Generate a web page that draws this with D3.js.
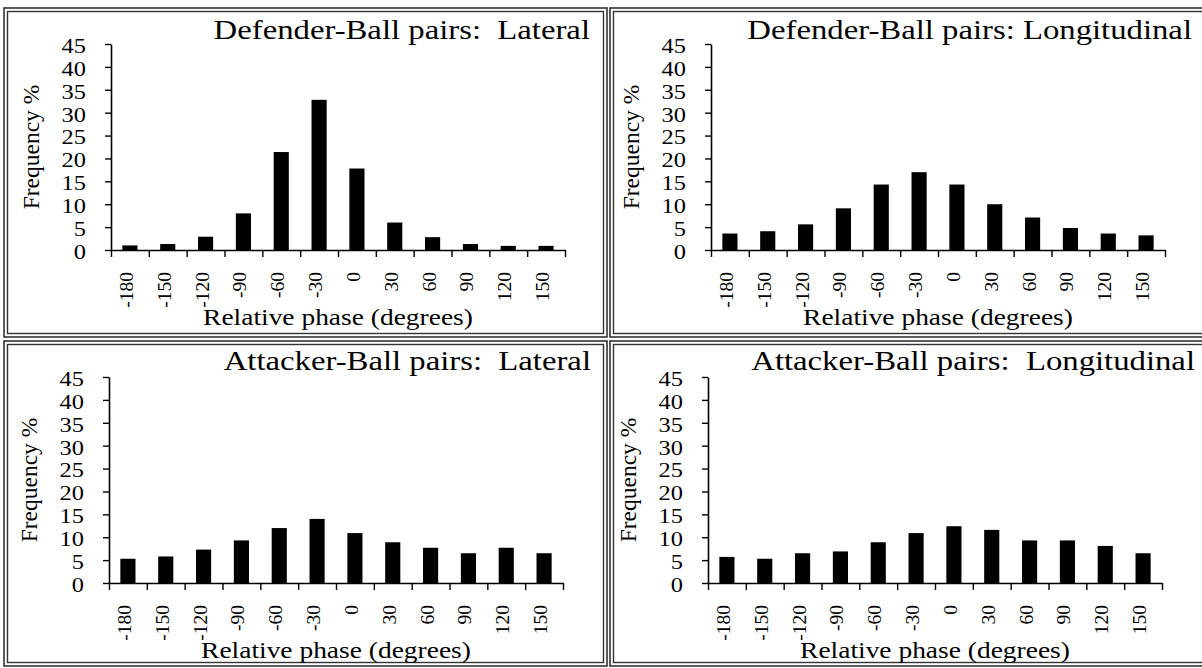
<!DOCTYPE html>
<html>
<head>
<meta charset="utf-8">
<script src="https://cdn.jsdelivr.net/npm/d3@7"></script>
<style>
  body { margin: 0; background: #fff; }
  svg { display: block; }
  text { font-family: 'Liberation Serif', 'Times New Roman', serif; fill: #000; }
</style>
</head>
<body>
<svg width="1202" height="668"></svg>
<script>
// phase bins and y ticks
var categories = ['-180', '-150', '-120', '-90', '-60', '-30', '0', '30', '60', '90', '120', '150'];
var yTicks = [0, 5, 10, 15, 20, 25, 30, 35, 40, 45];
var titles = [
  'Defender-Ball pairs:  Lateral',
  'Defender-Ball pairs: Longitudinal',
  'Attacker-Ball pairs:  Lateral',
  'Attacker-Ball pairs:  Longitudinal'
];
// frequency %
var defLateral = [1.0, 1.3, 2.9, 8.0, 21.4, 32.8, 17.8, 6.0, 2.8, 1.3, 0.9, 0.9];
var defLongitudinal = [3.6, 4.1, 5.6, 9.1, 14.3, 17.0, 14.3, 10.0, 7.1, 4.8, 3.6, 3.2];
var attLateral = [5.3, 5.8, 7.3, 9.3, 12.0, 14.0, 10.9, 8.9, 7.7, 6.5, 7.7, 6.5];
var attLongitudinal = [5.7, 5.3, 6.5, 6.9, 8.9, 10.9, 12.4, 11.6, 9.3, 9.3, 8.1, 6.5];

var SX = 1.22; // the source picture is stretched sideways
var svg = d3.select('svg');

var panels = [
  {title: titles[0], values: defLateral, ox: 0, oy: 0, tx: 590, ty: 39, box: [4, 8, 607, 337]},
  {title: titles[1], values: defLongitudinal, ox: 600, oy: 0, tx: 1192, ty: 39, box: [610, 8, 1214, 337]},
  {title: titles[2], values: attLateral, ox: -2, oy: 333, tx: 591, ty: 370, box: [4, 341, 607, 666]},
  {title: titles[3], values: attLongitudinal, ox: 597, oy: 333, tx: 1195, ty: 370, box: [610, 341, 1214, 666]}
];

function stretch(k) {
  return function(sel) {
    sel.each(function() {
      var w = this.getComputedTextLength();
      this.setAttribute('textLength', w * k);
      this.setAttribute('lengthAdjust', 'spacingAndGlyphs');
    });
  };
}

panels.forEach(p => {
  // double frame
  var b = p.box;
  svg.append('rect')
    .attr('x', b[0]).attr('y', b[1])
    .attr('width', b[2] - b[0]).attr('height', b[3] - b[1])
    .attr('fill', 'none').attr('stroke', '#333').attr('stroke-width', 1.6);
  svg.append('rect')
    .attr('x', b[0] + 3.5).attr('y', b[1] + 3.5)
    .attr('width', b[2] - b[0] - 7).attr('height', b[3] - b[1] - 7)
    .attr('fill', 'none').attr('stroke', '#333').attr('stroke-width', 1.4);

  var g = svg.append('g').attr('transform', 'translate(' + p.ox + ',' + p.oy + ')');
  var ax0 = 111, ax1 = 565, yTop = 44, yBot = 250;

  var y = d3.scaleLinear().domain([0, 45]).range([yBot, yTop]);
  var x = d3.scaleBand().domain(categories).range([ax0, ax1]);
  var xb = d3.scaleLinear().domain([0, categories.length]).range([ax0, ax1]);

  // bars
  g.selectAll('rect.bar')
    .data(p.values)
    .enter()
    .append('rect')
    .attr('class', 'bar')
    .attr('x', (d, i) => x(categories[i]) + x.bandwidth() * 0.3)
    .attr('width', x.bandwidth() * 0.4)
    .attr('y', d => y(d))
    .attr('height', d => yBot - y(d))
    .attr('fill', '#000');

  // y axis
  var ya = g.append('g')
    .attr('transform', 'translate(' + ax0 + ',0)')
    .call(d3.axisLeft(y).tickValues(yTicks).tickSizeInner(6).tickSizeOuter(0));
  ya.select('.domain').attr('stroke-width', 1.6);
  ya.selectAll('line').attr('stroke-width', 1.4);
  ya.selectAll('text')
    .attr('x', -25)
    .attr('dy', '0.42em')
    .style('font-size', '20px')
    .call(stretch(SX));

  // x axis line with ticks on bin edges
  var xa = g.append('g')
    .attr('transform', 'translate(0,' + yBot + ')')
    .call(d3.axisBottom(xb).tickValues(d3.range(categories.length + 1)).tickFormat('').tickSizeInner(7).tickSizeOuter(0));
  xa.select('.domain').attr('stroke-width', 1.6);
  xa.selectAll('line').attr('stroke-width', 1.4);

  // rotated bin labels
  var xl = g.append('g')
    .attr('transform', 'translate(0,' + yBot + ')')
    .call(d3.axisBottom(x).tickSize(0));
  xl.select('.domain').remove();
  xl.selectAll('text')
    .attr('transform', 'rotate(-90)')
    .attr('x', -22)
    .attr('y', 3)
    .attr('dy', 0)
    .attr('text-anchor', 'end')
    .style('font-size', '19.5px');

  // axis titles
  g.append('text')
    .attr('transform', 'translate(39,' + (yTop + yBot) / 2 + ') rotate(-90)')
    .attr('text-anchor', 'middle')
    .style('font-size', '23.5px')
    .text('Frequency %');

  g.append('text')
    .attr('x', (ax0 + ax1) / 2)
    .attr('y', 325)
    .attr('text-anchor', 'middle')
    .style('font-size', '22.5px')
    .text('Relative phase (degrees)')
    .call(stretch(SX));

  svg.append('text')
    .attr('x', p.tx)
    .attr('y', p.ty)
    .attr('text-anchor', 'end')
    .style('font-size', '27.5px')
    .style('white-space', 'pre')
    .text(p.title)
    .call(stretch(1.19));
});
</script>
</body>
</html>
